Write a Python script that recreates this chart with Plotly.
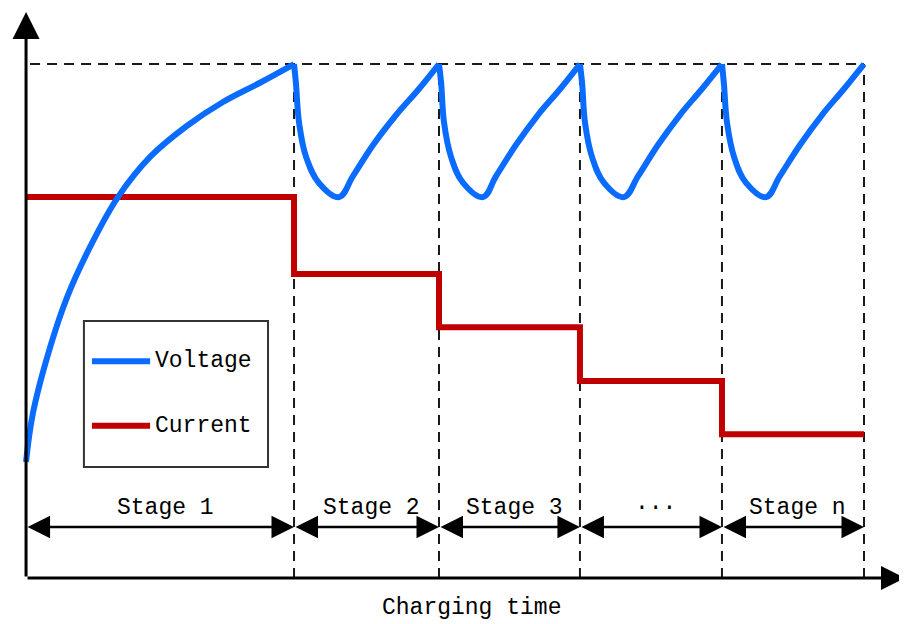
import plotly.graph_objects as go

# stage boundaries on the time axis (stage 1 = 100 units)
stage_bounds = [0, 100, 154.1, 206.7, 259.7, 312.7]
stage_labels = ["Stage 1", "Stage 2", "Stage 3", "···", "Stage n"]

# charging current, one level per stage
current_levels = [67.3, 53.7, 44.3, 34.8, 25.4]

# cut-off voltage (dashed line at the top)
v_cutoff = 90.8

# voltage response
voltage_t = [0, 2.6, 9.0, 15.3, 23.9, 34.3, 46.3, 60.1, 73.5, 87.3, 100,
             100.7, 101.9, 104.5, 109.3, 116.8, 122.0, 129.5, 138.1, 146.6, 154.1,
             154.9, 156.0, 158.6, 163.1, 170.5, 175.4, 182.8, 191.0, 199.3, 206.7,
             207.5, 208.6, 211.2, 215.7, 223.1, 228.4, 235.8, 244.0, 252.2, 259.7,
             260.4, 261.6, 264.2, 268.7, 276.1, 281.3, 288.8, 297.0, 305.2, 312.7]
voltage_v = [20.5, 29.2, 40.8, 49.6, 58.5, 67.3, 74.4, 79.9, 84.1, 87.5, 90.8,
             87.5, 80.4, 74.4, 69.8, 67.3, 71.0, 76.5, 81.8, 86.4, 90.8,
             87.5, 80.4, 74.4, 69.8, 67.3, 71.0, 76.5, 81.8, 86.4, 90.8,
             87.5, 80.4, 74.4, 69.8, 67.3, 71.0, 76.5, 81.8, 86.4, 90.8,
             87.5, 80.4, 74.4, 69.8, 67.3, 71.0, 76.5, 81.8, 86.4, 90.8]

BLUE = "#0a6cff"
RED = "#c00000"
DASH = "#1a1a1a"
FONT = "Liberation Mono"

fig = go.Figure()

# dashed guides
fig.add_trace(go.Scatter(x=[1.5, stage_bounds[-1]], y=[v_cutoff, v_cutoff], mode="lines",
                         line=dict(color=DASH, width=2, dash="10px,7px"),
                         hoverinfo="skip", showlegend=False))
for b in stage_bounds[1:]:
    fig.add_trace(go.Scatter(x=[b, b], y=[0, v_cutoff], mode="lines",
                             line=dict(color=DASH, width=2, dash="10px,7px"),
                             hoverinfo="skip", showlegend=False))

# current steps
fig.add_trace(go.Scatter(
    x=stage_bounds, y=current_levels + [current_levels[-1]],
    mode="lines", line=dict(color=RED, width=6, shape="hv"),
    name="Current", showlegend=False))

# voltage, one smooth piece per stage so the peaks stay sharp
for i in range(len(stage_bounds) - 1):
    lo, hi = stage_bounds[i], stage_bounds[i + 1]
    seg = [(t, v) for t, v in zip(voltage_t, voltage_v) if lo <= t <= hi]
    fig.add_trace(go.Scatter(
        x=[p[0] for p in seg], y=[p[1] for p in seg], mode="lines",
        line=dict(color=BLUE, width=6, shape="spline", smoothing=1.1),
        name="Voltage", legendgroup="Voltage", showlegend=False))

annotations = []

# axes with arrow heads
annotations.append(dict(x=0, y=100, ax=0, ay=0, xref="x", yref="y", axref="x", ayref="y",
                        text="", showarrow=True, arrowhead=2, arrowwidth=3, arrowsize=1.8,
                        arrowcolor="black", standoff=0))
annotations.append(dict(x=328, y=0, ax=0, ay=0, xref="x", yref="y", axref="x", ayref="y",
                        text="", showarrow=True, arrowhead=2, arrowwidth=3, arrowsize=1.6,
                        arrowcolor="black", standoff=0))

# stage double arrows and labels
for i, lab in enumerate(stage_labels):
    x0, x1 = stage_bounds[i], stage_bounds[i + 1]
    annotations.append(dict(x=x1, y=9.0, ax=x0, ay=9.0, xref="x", yref="y", axref="x", ayref="y",
                            text="", showarrow=True, arrowhead=2, startarrowhead=2,
                            arrowside="end+start", arrowwidth=2.5, arrowsize=1.8,
                            startarrowsize=1.8, arrowcolor="black", standoff=0, startstandoff=0))
    annotations.append(dict(x=(x0 + x1) / 2, y=12.4, xref="x", yref="y", text=lab,
                            showarrow=False, xshift=5, font=dict(family=FONT, size=23, color="black")))

# axis title (anchored on the axis, pushed below it)
annotations.append(dict(x=166.4, y=0, xref="x", yref="y", yshift=-30, text="Charging time",
                        showarrow=False, font=dict(family=FONT, size=23, color="black")))

# legend
annotations.append(dict(x=47.4, y=38.3, xref="x", yref="y", text="Voltage", xanchor="left",
                        showarrow=False, font=dict(family=FONT, size=23, color="black")))
annotations.append(dict(x=47.4, y=26.9, xref="x", yref="y", text="Current", xanchor="left",
                        showarrow=False, font=dict(family=FONT, size=23, color="black")))

shapes = [
    dict(type="rect", xref="x", yref="y", x0=21.6, x1=90.3, y0=19.6, y1=45.4,
         line=dict(color="#333333", width=2), fillcolor="white", layer="above"),
    dict(type="line", xref="x", yref="y", x0=24.6, x1=46.3, y0=38.3, y1=38.3,
         line=dict(color=BLUE, width=6), layer="above"),
    dict(type="line", xref="x", yref="y", x0=24.6, x1=46.3, y0=26.9, y1=26.9,
         line=dict(color=RED, width=6), layer="above"),
]

# the page adds an 8 px body margin, so the figure is a bit smaller
fig.update_layout(
    width=899, height=616,
    margin=dict(l=10, r=2, t=4, b=29),
    plot_bgcolor="white", paper_bgcolor="white",
    xaxis=dict(range=[-3, 328], visible=False),
    yaxis=dict(range=[-3, 100], visible=False),
    annotations=annotations,
    shapes=shapes,
)

fig.write_html("out.html")
